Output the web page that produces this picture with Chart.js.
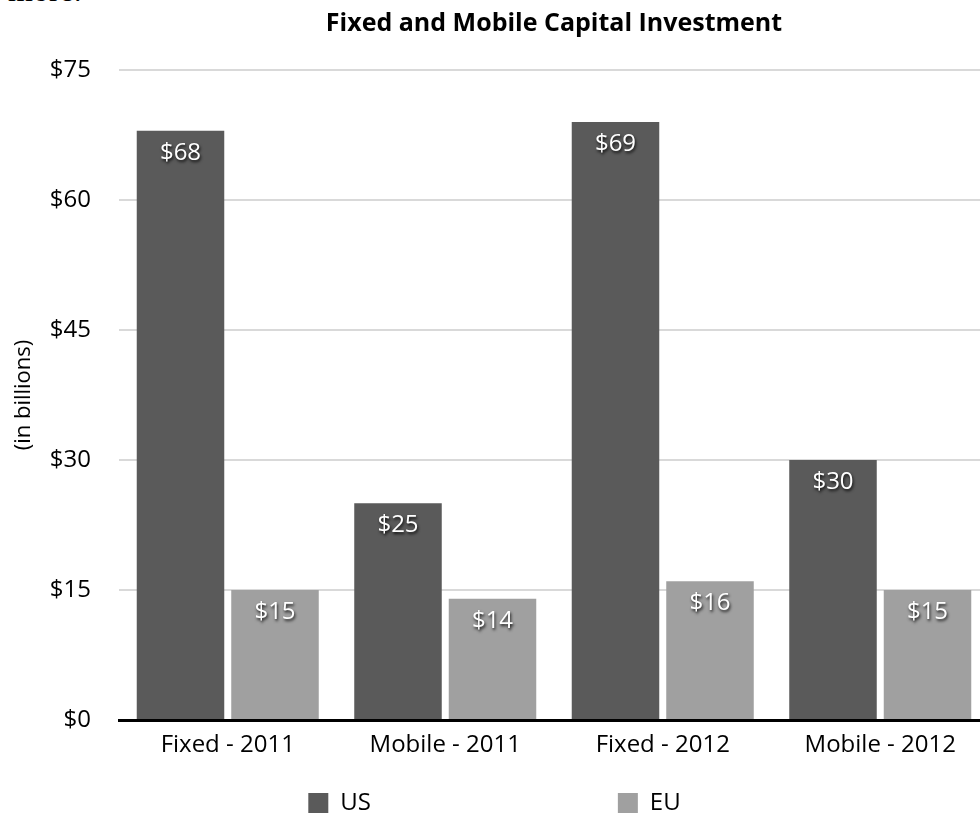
<!DOCTYPE html>
<html>
<head>
<meta charset="utf-8">
<title>Fixed and Mobile Capital Investment</title>
<script src="https://cdn.jsdelivr.net/npm/chart.js@4.4.1/dist/chart.umd.min.js"></script>
<style>
  html, body { margin: 0; padding: 0; background: #fff; overflow: hidden; width: 980px; height: 814px; }
  #wrap { position: absolute; left: 0; top: 0; width: 990px; height: 825px; }
  #lead { position: absolute; left: 8px; top: -26px; margin: 0; font-family: "Liberation Serif", serif; font-size: 32px; line-height: 32px; color: #000; }
</style>
</head>
<body>
<p id="lead">more.</p>
<div id="wrap"><canvas id="chart"></canvas></div>
<script>
// Capital investment, in billions of dollars
const categories = ['Fixed - 2011', 'Mobile - 2011', 'Fixed - 2012', 'Mobile - 2012'];
const seriesNames = ['US', 'EU'];
const usValues = [68, 25, 69, 30];
const euValues = [15, 14, 16, 15];
const yMin = 0;
const yMax = 75;
const yStep = 15;

const FONT = '"Open Sans", "Noto Sans", sans-serif';

// White value labels with a soft drop shadow, just inside the top of each bar
const barValueLabels = {
  id: 'barValueLabels',
  afterDatasetsDraw(chart) {
    const ctx = chart.ctx;
    ctx.save();
    ctx.font = '24px ' + FONT;
    ctx.textAlign = 'center';
    ctx.textBaseline = 'middle';
    ctx.fillStyle = '#ffffff';
    ctx.shadowColor = 'rgba(0,0,0,0.85)';
    ctx.shadowBlur = 3;
    ctx.shadowOffsetX = 1;
    ctx.shadowOffsetY = 2;
    chart.data.datasets.forEach((ds, i) => {
      const meta = chart.getDatasetMeta(i);
      meta.data.forEach((bar, j) => {
        ctx.fillText('$' + ds.data[j], bar.x, bar.y + 22);
      });
    });
    ctx.restore();
  }
};

new Chart(document.getElementById('chart'), {
  type: 'bar',
  data: {
    labels: categories,
    datasets: [
      { label: seriesNames[0], data: usValues, backgroundColor: '#5a5a5a', borderWidth: 0 },
      { label: seriesNames[1], data: euValues, backgroundColor: '#a0a0a0', borderWidth: 0 }
    ]
  },
  options: {
    responsive: true,
    maintainAspectRatio: false,
    animation: false,
    events: [],
    categoryPercentage: 0.869,
    barPercentage: 0.926,
    layout: { padding: { left: 0, right: 1, top: 0, bottom: 0 } },
    plugins: {
      tooltip: { enabled: false },
      title: {
        display: true,
        text: 'Fixed and Mobile Capital Investment',
        fullSize: false,
        color: '#000',
        font: { family: FONT, size: 25, weight: 'bold' },
        padding: { top: 9, bottom: 31 }
      },
      legend: {
        display: true,
        position: 'bottom',
        labels: {
          color: '#000',
          boxWidth: 20,
          boxHeight: 20,
          padding: 10,
          font: { family: FONT, size: 24 },
          generateLabels(chart) {
            const items = Chart.defaults.plugins.legend.labels.generateLabels(chart);
            // spread the two entries apart
            items.forEach((it, i) => {
              it.lineWidth = 0;
              if (i < items.length - 1) it.text = it.text + ' '.repeat(38);
            });
            return items;
          }
        }
      }
    },
    scales: {
      x: {
        z: 1,
        grid: { display: false, drawTicks: false },
        border: { display: true, color: '#000', width: 3 },
        ticks: { color: '#000', padding: 11, font: { family: FONT, size: 24 } },
        afterFit(scale) { scale.height = 61; }
      },
      y: {
        min: yMin,
        max: yMax,
        grid: {
          drawTicks: false,
          lineWidth: 2,
          color: (c) => (c.tick && c.tick.value === 0 ? 'rgba(0,0,0,0)' : '#d9d9d9')
        },
        border: { display: false },
        ticks: {
          stepSize: yStep,
          color: '#000',
          padding: 28,
          font: { family: FONT, size: 24 },
          callback: (v) => '$' + v
        },
        title: {
          display: true,
          text: '(in billions)',
          color: '#000',
          font: { family: FONT, size: 22 },
          padding: { top: 11, bottom: 0 }
        },
        afterFit(scale) { scale.width = 119; }
      }
    }
  },
  plugins: [barValueLabels]
});
</script>
</body>
</html>
